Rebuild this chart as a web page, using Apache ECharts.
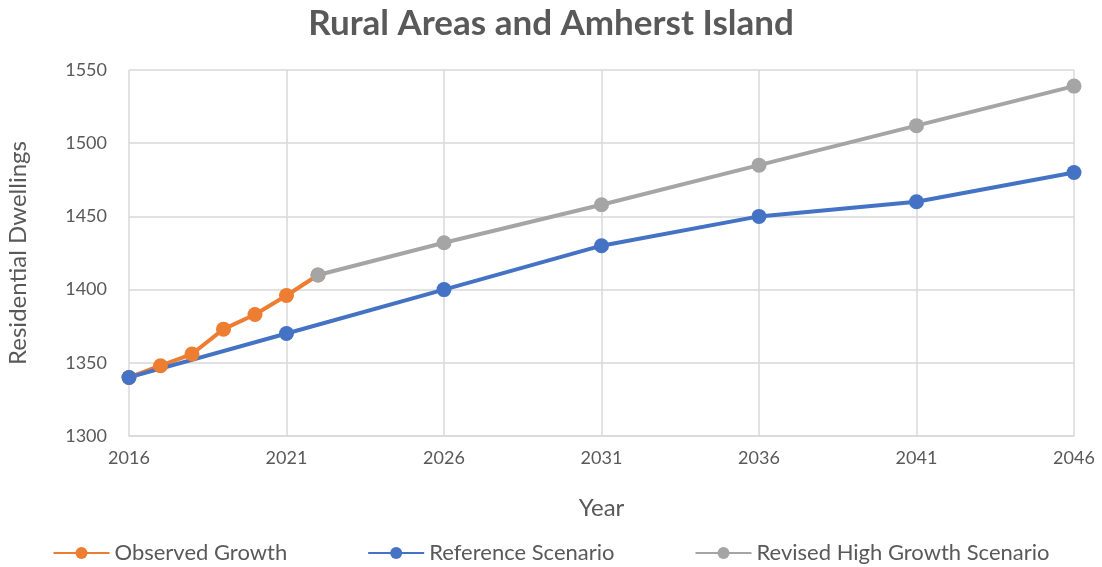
<!DOCTYPE html>
<html>
<head>
<meta charset="utf-8">
<script src="https://cdn.jsdelivr.net/npm/echarts@6/dist/echarts.min.js"></script>
<style>
    html, body { margin: 0; padding: 0; background: #fff; }
    #chart { width: 1102px; height: 567px; }
</style>
</head>
<body>
<div id="chart"></div>
<script>
var observedYears = [2016, 2017, 2018, 2019, 2020, 2021, 2022];
var observedValues = [1340, 1348, 1356, 1373, 1383, 1396, 1410];

var referenceYears = [2016, 2021, 2026, 2031, 2036, 2041, 2046];
var referenceValues = [1340, 1370, 1400, 1430, 1450, 1460, 1480];

var highYears = [2022, 2026, 2031, 2036, 2041, 2046];
var highValues = [1410, 1432, 1458, 1485, 1512, 1539];

function pairs(xs, ys) {
    return xs.map(function (x, i) { return [x, ys[i]]; });
}

var chartMgr = {
    init: function () {
        var myChart = echarts.init(document.getElementById('chart'));
        var textColor = '#595959';
        var font = 'Lato';

        function lineSeries(name, color, data) {
            return {
                name: name,
                type: 'line',
                data: data,
                symbol: 'circle',
                symbolSize: 15,
                lineStyle: { color: color, width: 4 },
                itemStyle: { color: color },
                animation: false
            };
        }

        var option = {
            textStyle: { fontFamily: font },
            title: {
                text: 'Rural Areas and Amherst Island',
                left: 'center',
                top: 1,
                textStyle: { fontSize: 35, fontWeight: 'bold', color: textColor, fontFamily: font }
            },
            legend: {
                bottom: -2,
                left: 'center',
                itemWidth: 56,
                itemHeight: 15,
                itemGap: 80,
                textStyle: { fontSize: 22, color: textColor },
                data: ['Observed Growth', 'Reference Scenario', 'Revised High Growth Scenario']
            },
            grid: {
                left: 129,
                right: 28,
                top: 70,
                bottom: 131,
                outerBoundsMode: 'none'
            },
            xAxis: {
                type: 'value',
                min: 2016,
                max: 2046,
                interval: 5,
                name: 'Year',
                nameLocation: 'middle',
                nameGap: 60,
                nameTextStyle: { fontSize: 24, color: textColor },
                axisLine: { lineStyle: { color: '#d9d9d9', width: 1.5 } },
                axisTick: { show: false },
                axisLabel: { fontSize: 18, color: textColor, margin: 13, formatter: function (v) { return String(v); } },
                splitLine: { show: true, lineStyle: { color: '#d9d9d9', width: 1.5 } }
            },
            yAxis: {
                type: 'value',
                min: 1300,
                max: 1550,
                interval: 50,
                name: 'Residential Dwellings',
                nameLocation: 'middle',
                nameGap: 99,
                nameTextStyle: { fontSize: 24, color: textColor },
                axisLine: { show: false },
                axisTick: { show: false },
                axisLabel: { fontSize: 18, color: textColor, margin: 22, formatter: function (v) { return String(v); } },
                splitLine: { lineStyle: { color: '#d9d9d9', width: 1.5 } }
            },
            series: [
                lineSeries('Observed Growth', '#ED7D31', pairs(observedYears, observedValues)),
                lineSeries('Reference Scenario', '#4472C4', pairs(referenceYears, referenceValues)),
                lineSeries('Revised High Growth Scenario', '#A5A5A5', pairs(highYears, highValues))
            ]
        };

        myChart.setOption(option);
    }
};

chartMgr.init();
</script>
</body>
</html>
